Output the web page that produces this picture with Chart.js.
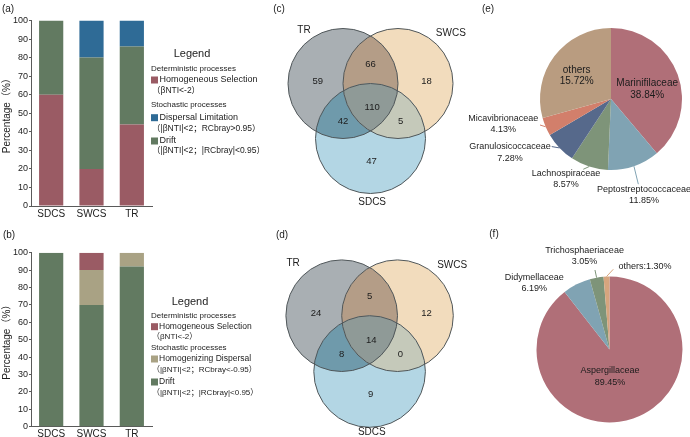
<!DOCTYPE html>
<html><head><meta charset="utf-8">
<script src="https://cdn.jsdelivr.net/npm/chart.js@4.4.1/dist/chart.umd.min.js"></script>
<style>
html,body{margin:0;padding:0;background:#fff;}
#wrap{position:relative;width:690px;height:437px;overflow:hidden;background:#fff;}
canvas{position:absolute;left:0;top:0;width:690px;height:437px;}
</style></head><body>
<div id="wrap">
<canvas id="ca" width="690" height="437"></canvas>
<canvas id="cb" width="690" height="437"></canvas>
<canvas id="cc" width="690" height="437"></canvas>
<canvas id="cd" width="690" height="437"></canvas>
<canvas id="ce" width="690" height="437"></canvas>
<canvas id="cf" width="690" height="437"></canvas>
</div>
<script>
// ---------- data ----------
const categories = ['SDCS', 'SWCS', 'TR'];
// (a) bacteria assembly processes (%)
const aHomSelection = [60, 20, 44];
const aDrift = [40, 60, 42];
const aDispersalLimitation = [0, 20, 14];
// (b) fungi assembly processes (%)
const bDrift = [100, 70, 92];
const bHomDispersal = [0, 20, 8];
const bHomSelection = [0, 10, 0];
const yMin = 0, yMax = 100, yStep = 10;
// (c),(d) Venn
const vennSets = ['TR', 'SWCS', 'SDCS'];
const vennRegions = ['TR only', 'TR∩SWCS', 'SWCS only', 'TR∩SWCS∩SDCS', 'TR∩SDCS', 'SWCS∩SDCS', 'SDCS only'];
const vennCCounts = [59, 66, 18, 110, 42, 5, 47];
const vennDCounts = [24, 5, 12, 14, 8, 0, 9];
// (e) pie
const pieEFamilies = ['Marinifilaceae', 'Peptostreptococcaceae', 'Lachnospiraceae', 'Granulosicoccaceae', 'Micavibrionaceae', 'others'];
const pieEPercent = [38.84, 11.85, 8.57, 7.28, 4.13, 15.72];
const pieESlice = [38.84, 11.85, 8.57, 7.28, 4.13, 29.33];
// (f) pie
const pieFFamilies = ['Aspergillaceae', 'Didymellaceae', 'Trichosphaeriaceae', 'others'];
const pieFPercent = [89.45, 6.19, 3.05, 1.30];

// ---------- style ----------
const W = 690, H = 437;
const FONT = "'Liberation Sans', Arial, 'Noto Sans CJK SC', sans-serif";
const TEXT = '#1c1c1c', AXIS = '#5a5a5a';
const C_HS = '#9a5b64', C_DRIFT = '#627a61', C_DL = '#2f6b96', C_HD = '#a9a284';
Chart.defaults.font.family = FONT;
Chart.defaults.color = TEXT;

function letterPlugin(text, x, y) {
  return { id: 'letter', afterDraw(chart) {
    const ctx = chart.ctx; ctx.save();
    ctx.font = `10px ${FONT}`; ctx.fillStyle = TEXT; ctx.textAlign = 'center'; ctx.textBaseline = 'middle';
    ctx.fillText(text, x, y); ctx.restore();
  }};
}

// ---------- bar charts ----------
function legendPlugin(spec) {
  return { id: 'barLegend', afterDraw(chart) {
    const ctx = chart.ctx; ctx.save(); ctx.textBaseline = 'middle';
    spec.forEach(it => {
      ctx.font = `${it.size}px ${FONT}`;
      ctx.textAlign = it.center ? 'center' : 'left';
      if (it.ds !== undefined) {
        ctx.fillStyle = chart.data.datasets[it.ds].backgroundColor;
        ctx.fillRect(151, it.y - 3.5, 7, 7);
      }
      ctx.fillStyle = TEXT;
      ctx.fillText(it.text, it.x, it.y);
    });
    ctx.restore();
  }};
}

function barChart(id, area, datasets, legendSpec, letter) {
  return new Chart(document.getElementById(id), {
    type: 'bar',
    data: { labels: categories, datasets },
    options: {
      responsive: false, animation: false, events: [],
      layout: { padding: { left: 0, top: area.top, right: W - area.right, bottom: H - area.axisBottom } },
      datasets: { bar: { categoryPercentage: 1, barPercentage: 0.6, borderWidth: 0 } },
      plugins: { legend: { display: false }, tooltip: { enabled: false } },
      scales: {
        x: { stacked: true,
          grid: { display: true, drawOnChartArea: false, drawTicks: false },
          border: { display: true, color: AXIS, width: 1 },
          ticks: { color: TEXT, font: { size: 10 }, padding: 2 },
          afterFit: s => { s.height = area.axisBottom - area.bottom; } },
        y: { stacked: true, min: yMin, max: yMax,
          ticks: { stepSize: yStep, color: TEXT, font: { size: 9 }, padding: 1 },
          grid: { drawOnChartArea: false, tickLength: 2, color: AXIS },
          border: { color: AXIS, width: 1 },
          title: { display: true, text: 'Percentage（%）', color: TEXT, font: { size: 10 }, padding: { top: 1, bottom: 0 } },
          afterFit: s => { s.width = area.left; } }
      }
    },
    plugins: [legendPlugin(legendSpec), letterPlugin(letter.t, letter.x, letter.y)]
  });
}

barChart('ca', { left: 31, top: 20.5, right: 152, bottom: 206, axisBottom: 220 }, [
  { label: 'Homogeneous Selection', data: aHomSelection, backgroundColor: C_HS },
  { label: 'Drift', data: aDrift, backgroundColor: C_DRIFT },
  { label: 'Dispersal Limitation', data: aDispersalLimitation, backgroundColor: C_DL }
], [
  { text: 'Legend', x: 192, y: 54, size: 11, center: true },
  { text: 'Deterministic processes', x: 151, y: 69, size: 8 },
  { text: 'Homogeneous Selection', x: 159.5, y: 80, size: 9, ds: 0 },
  { text: '（βNTI<-2）', x: 152, y: 90.5, size: 8.5 },
  { text: 'Stochastic processes', x: 151, y: 105, size: 8 },
  { text: 'Dispersal Limitation', x: 159.5, y: 117.7, size: 9, ds: 2 },
  { text: '（|βNTI|<2；RCbray>0.95）', x: 152, y: 129, size: 8.5 },
  { text: 'Drift', x: 159.5, y: 141, size: 9, ds: 1 },
  { text: '（|βNTI|<2；|RCbray|<0.95）', x: 152, y: 151, size: 8.5 }
], { t: '(a)', x: 8, y: 9 });

barChart('cb', { left: 31, top: 252.7, right: 152, bottom: 426.7, axisBottom: 437 }, [
  { label: 'Drift', data: bDrift, backgroundColor: C_DRIFT },
  { label: 'Homogenizing Dispersal', data: bHomDispersal, backgroundColor: C_HD },
  { label: 'Homogeneous Selection', data: bHomSelection, backgroundColor: C_HS }
], [
  { text: 'Legend', x: 190, y: 301.7, size: 11, center: true },
  { text: 'Deterministic processes', x: 151, y: 316, size: 8 },
  { text: 'Homogeneous Selection', x: 159, y: 326.7, size: 8.5, ds: 2 },
  { text: '（βNTI<-2）', x: 152, y: 336.5, size: 8 },
  { text: 'Stochastic processes', x: 151, y: 348, size: 8 },
  { text: 'Homogenizing Dispersal', x: 159, y: 359, size: 8.5, ds: 1 },
  { text: '（|βNTI|<2；RCbray<-0.95）', x: 152, y: 370, size: 8 },
  { text: 'Drift', x: 159, y: 382, size: 8.5, ds: 0 },
  { text: '（|βNTI|<2；|RCbray|<0.95）', x: 152, y: 392.7, size: 8 }
], { t: '(b)', x: 9, y: 235 });

// ---------- Venn diagrams ----------
const vennCenters = [[-0.5, 0.5], [0.5, 0.5], [0, -0.5]];
const vennRadius = 1;
const vennRegionPos = [[-0.96, 0.54], [0, 0.85], [1.02, 0.54], [0.03, 0.06], [-0.5, -0.19], [0.55, -0.19], [0.02, -0.91]];
const vennSingle = ['#a9afb3', '#f2dcbd', '#b3d6e4'];
const vennPair = { '0-1': '#b49d87', '0-2': '#6f9aab', '1-2': '#c5c9ba' };
const vennTriple = '#8f9a97';

function vennChart(id, area, counts, setLabelPos, letter) {
  const span = 1.6;
  return new Chart(document.getElementById(id), {
    type: 'scatter',
    data: { datasets: [{ label: 'regions', data: counts.map((v, i) => ({ x: vennRegionPos[i][0], y: vennRegionPos[i][1] })), pointRadius: 0 }] },
    options: {
      responsive: false, animation: false, events: [],
      layout: { padding: { left: area.cx - area.unit * span, right: W - (area.cx + area.unit * span), top: area.cy - area.unit * span, bottom: H - (area.cy + area.unit * span) } },
      plugins: { legend: { display: false }, tooltip: { enabled: false } },
      scales: { x: { type: 'linear', min: -span, max: span, display: false }, y: { type: 'linear', min: -span, max: span, display: false } }
    },
    plugins: [{ id: 'venn', afterDraw(chart) {
      const { ctx, scales: { x, y } } = chart;
      const pts = vennCenters.map(c => ({ x: x.getPixelForValue(c[0]), y: y.getPixelForValue(c[1]), r: x.getPixelForValue(c[0] + vennRadius) - x.getPixelForValue(c[0]) }));
      const circ = p => { const pa = new Path2D(); pa.arc(p.x, p.y, p.r, 0, Math.PI * 2); return pa; };
      ctx.save();
      pts.forEach((p, i) => { ctx.fillStyle = vennSingle[i]; ctx.fill(circ(p)); });
      [[0, 1], [0, 2], [1, 2]].forEach(([i, j]) => {
        ctx.save(); ctx.clip(circ(pts[i])); ctx.fillStyle = vennPair[i + '-' + j]; ctx.fill(circ(pts[j])); ctx.restore();
      });
      ctx.save(); ctx.clip(circ(pts[0])); ctx.clip(circ(pts[1])); ctx.fillStyle = vennTriple; ctx.fill(circ(pts[2])); ctx.restore();
      ctx.strokeStyle = '#50575a'; ctx.lineWidth = 1;
      pts.forEach(p => ctx.stroke(circ(p)));
      ctx.fillStyle = TEXT; ctx.textAlign = 'center'; ctx.textBaseline = 'middle';
      ctx.font = `9.5px ${FONT}`;
      chart.getDatasetMeta(0).data.forEach((el, i) => ctx.fillText(String(counts[i]), el.x, el.y));
      ctx.font = `10px ${FONT}`;
      vennSets.forEach((s, i) => ctx.fillText(s, x.getPixelForValue(setLabelPos[i][0]), y.getPixelForValue(setLabelPos[i][1])));
      ctx.restore();
    }}, letterPlugin(letter.t, letter.x, letter.y)]
  });
}

vennChart('cc', { cx: 370.5, cy: 111, unit: 55 }, vennCCounts, [[-1.21, 1.47], [1.46, 1.42], [0.03, -1.65]], { t: '(c)', x: 279, y: 9 });
vennChart('cd', { cx: 369.6, cy: 343.6, unit: 55.8 }, vennDCounts, [[-1.37, 1.44], [1.48, 1.41], [0.04, -1.58]], { t: '(d)', x: 282, y: 235 });

// ---------- pies ----------
function pieChart(id, area, labels, values, percents, colors, lay, letter) {
  return new Chart(document.getElementById(id), {
    type: 'pie',
    data: { labels, datasets: [{ data: values, backgroundColor: colors, borderWidth: 0 }] },
    options: {
      responsive: false, animation: false, events: [],
      layout: { padding: { left: area.cx - area.r, right: W - (area.cx + area.r), top: area.cy - area.r, bottom: H - (area.cy + area.r) } },
      plugins: { legend: { display: false }, tooltip: { enabled: false } }
    },
    plugins: [{ id: 'pieLabels', afterDraw(chart) {
      const ctx = chart.ctx; ctx.save();
      const arcs = chart.getDatasetMeta(0).data;
      ctx.textAlign = 'center'; ctx.textBaseline = 'middle';
      lay.forEach((L, i) => {
        const a = arcs[i];
        const R = a.outerRadius;
        if (L.lead) {
          const mid = (a.startAngle + a.endAngle) / 2;
          ctx.strokeStyle = colors[i]; ctx.lineWidth = 1;
          ctx.beginPath();
          ctx.moveTo(a.x + R * Math.cos(mid), a.y + R * Math.sin(mid));
          ctx.lineTo(a.x + R * L.lead[0], a.y + R * L.lead[1]);
          ctx.stroke();
        }
        ctx.fillStyle = TEXT;
        ctx.font = `${L.size}px ${FONT}`;
        const tx = a.x + R * L.pos[0], ty = a.y + R * L.pos[1];
        const pct = percents[i].toFixed(2) + '%';
        if (L.single) {
          ctx.fillText(labels[i] + ':' + pct, tx, ty);
        } else {
          ctx.fillText(labels[i], tx, ty - L.gap / 2);
          ctx.fillText(pct, tx, ty + L.gap / 2);
        }
      });
      ctx.restore();
    }}, letterPlugin(letter.t, letter.x, letter.y)]
  });
}

pieChart('ce', { cx: 611, cy: 99, r: 71 }, pieEFamilies, pieESlice, pieEPercent,
  ['#b06f78', '#80a3b3', '#7e9479', '#56698b', '#d27f6b', '#b99c80'],
  [
    { pos: [0.51, -0.14], size: 10, gap: 11.7 },
    { pos: [0.465, 1.353], size: 9, gap: 11.7, lead: [0.385, 1.2] },
    { pos: [-0.634, 1.134], size: 9, gap: 11, lead: [-0.39, 0.99] },
    { pos: [-1.423, 0.754], size: 9, gap: 11.6, lead: [-0.835, 0.67] },
    { pos: [-1.517, 0.349], size: 9, gap: 11, lead: [-1.0, 0.366] },
    { pos: [-0.483, -0.321], size: 10, gap: 11 }
  ], { t: '(e)', x: 488, y: 9 });

pieChart('cf', { cx: 609.5, cy: 349.5, r: 73 }, pieFFamilies, pieFPercent, pieFPercent,
  ['#b06f78', '#80a3b3', '#7e9479', '#d6a57e'],
  [
    { pos: [0.007, 0.372], size: 9, gap: 11.3 },
    { pos: [-1.032, -0.914], size: 9, gap: 11 },
    { pos: [-0.342, -1.278], size: 9, gap: 11, lead: [-0.199, -1.089] },
    { pos: [0.486, -1.134], size: 9, single: true, lead: [0.052, -1.099] }
  ], { t: '(f)', x: 494, y: 234 });
</script>
</body></html>
